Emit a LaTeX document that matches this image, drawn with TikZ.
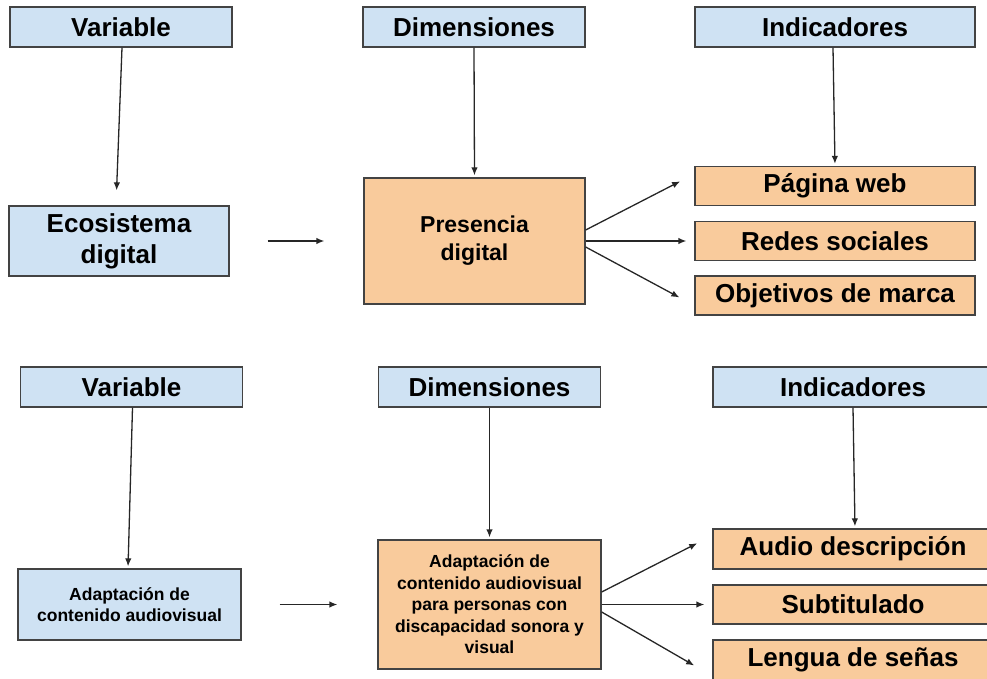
\documentclass[tikz,border=0pt]{standalone}
\usepackage{fontspec}
\setmainfont{Liberation Sans}
\usepackage{tikz}
\usetikzlibrary{arrows.meta,calc,positioning}
\definecolor{varblue}{HTML}{CFE2F3}
\definecolor{dimorange}{HTML}{F9CB9C}
\definecolor{boxline}{HTML}{434343}
\newcommand{\bigfont}{\bfseries\fontsize{26}{31}\selectfont}
\newcommand{\midfont}{\bfseries\fontsize{23}{28}\selectfont}
\newcommand{\smallfont}{\bfseries\fontsize{17.5}{21.5}\selectfont}
\tikzset{
  bluebox/.style={rectangle,draw=boxline,line width=1.3pt,fill=varblue,
    inner sep=0pt,align=center,minimum width=222pt,minimum height=40pt,font=\bigfont},
  orangebox/.style={rectangle,draw=boxline,line width=1.3pt,fill=dimorange,
    inner sep=0pt,align=center,minimum width=221pt,minimum height=126pt,font=\midfont},
  indbox/.style={orangebox,minimum width=280pt,minimum height=39pt,font=\bigfont},
  link/.style={-{Latex[length=8pt,width=6.5pt]},line width=1.3pt,black!85}
}

\begin{document}
\begin{tikzpicture}[x=1pt,y=-1pt]
  \useasboundingbox (0,0) rectangle (987,679);
  \clip (0,0) rectangle (987,679);

  % first table
  \node[bluebox] (var1) at (121,27) {Variable};
  \node[bluebox] (dim1) at (474,27) {Dimensiones};
  \node[bluebox,minimum width=280pt] (ind1) at (835,27) {Indicadores};
  \node[bluebox,minimum width=220pt,minimum height=70pt] (eco) at (119,241) {Ecosistema\\digital};
  \node[orangebox] (pres) at (474.5,241) {Presencia\\digital};
  \node[indbox] (web) at (835,186) {Página web};
  \node[indbox] (redes) at (835,241) {Redes sociales};
  \node[indbox] (marca) at (835,295.5) {Objetivos de marca};

  \draw[link,shorten >=15pt] ([xshift=1pt]var1.south) -- ([xshift=-3pt]eco.north);
  \draw[link,shorten >=2pt] (dim1.south) -- (pres.north);
  \draw[link,shorten >=2pt] ([xshift=-2pt]ind1.south) -- (web.north);
  \draw[link,shorten <=38pt,shorten >=39pt] (eco.east) -- (pres.west);
  \draw[link,shorten >=16pt] ([yshift=11pt]pres.east) -- ([yshift=12pt]web.west);
  \draw[link,shorten >=8pt] (pres.east) -- (redes.west);
  \draw[link,shorten >=17pt] ([yshift=-6pt]pres.east) -- ([yshift=-10pt]marca.west);

  % second table
  \node[bluebox] (var2) at (131.5,387) {Variable};
  \node[bluebox] (dim2) at (489.5,387) {Dimensiones};
  \node[bluebox,minimum width=280pt] (ind2) at (853,387) {Indicadores};
  \node[bluebox,minimum width=223pt,minimum height=71pt,font=\smallfont] (adap) at (129.5,604.5)
    {Adaptación de\\contenido audiovisual};
  \node[orangebox,minimum width=223pt,minimum height=129pt,font=\smallfont] (pers) at (489.5,604.5)
    {Adaptación de\\contenido audiovisual\\para personas con\\discapacidad sonora y\\visual};
  \node[indbox,minimum height=40pt] (audio) at (853,549) {Audio descripción};
  \node[indbox] (subt) at (853,604.5) {Subtitulado};
  \node[indbox,minimum height=40pt] (senas) at (853,660) {Lengua de señas};

  \draw[link,shorten >=2pt] ([xshift=1pt]var2.south) -- ([xshift=-1.5pt]adap.north);
  \draw[link,shorten >=2pt] (dim2.south) -- (pers.north);
  \draw[link,shorten >=2pt] (ind2.south) -- ([xshift=2pt]audio.north);
  \draw[link,shorten <=38pt,shorten >=40pt] (adap.east) -- (pers.west);
  \draw[link,shorten >=17pt] ([yshift=12.5pt]pers.east) -- ([yshift=13.5pt]audio.west);
  \draw[link,shorten >=8pt] (pers.east) -- (subt.west);
  \draw[link,shorten >=21pt] ([yshift=-7.5pt]pers.east) -- ([yshift=-16pt]senas.west);
\end{tikzpicture}
\end{document}
